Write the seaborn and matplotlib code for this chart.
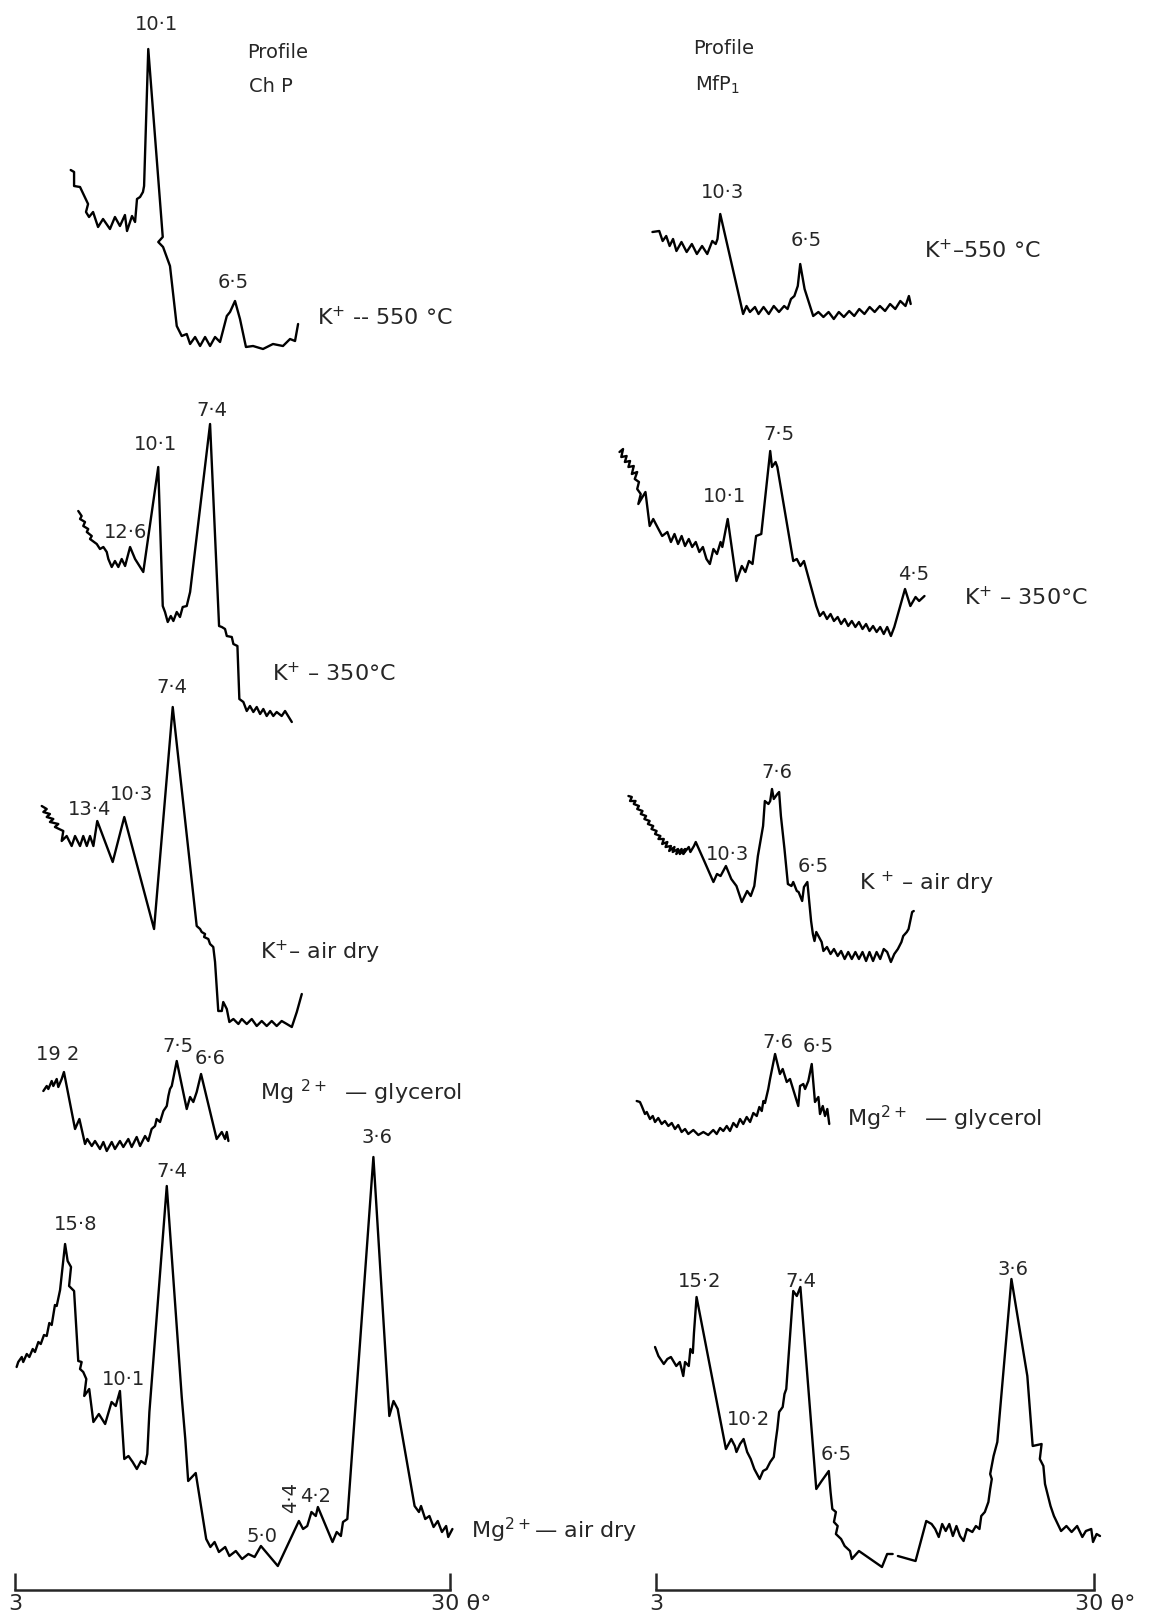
import numpy as np
import pandas as pd
import seaborn as sns
import matplotlib.pyplot as plt
from matplotlib.transforms import ScaledTranslation

# XRD traces (theta in degrees, counts above each trace's own floor)

# ---- Profile ChP ----
chp_k550_theta = [6.43, 6.64, 6.64, 7.01, 7.51, 7.38, 7.57, 7.82, 8.13, 8.44, 8.87, 9.18, 9.49, 9.80, 9.93, 10.24,
                  10.43, 10.55, 10.74, 10.92, 10.99, 11.25, 12.15, 11.87, 12.17, 12.60, 13.02, 13.33, 13.64, 13.85,
                  14.16, 14.47, 14.78, 15.09, 15.40, 15.71, 16.13, 16.33, 16.64, 16.95, 17.32, 17.76, 18.38, 19.00,
                  19.62, 20.06, 20.37, 20.56]
chp_k550_counts = [179, 177, 163, 162, 145, 137, 132, 137, 122, 130, 120, 132, 123, 134, 118, 133, 127, 150, 152, 157,
                   163, 300, 112, 107, 102, 83, 23, 13, 15, 5, 12, 3, 12, 3, 12, 7, 33, 37, 48, 30, 2, 3, 0, 5, 3, 10,
                   8, 25]

chp_k350_theta = [6.90, 7.11, 7.01, 7.32, 7.21, 7.52, 7.43, 7.74, 7.63, 8.05, 8.25, 8.46, 8.67, 8.77, 8.98, 9.18,
                  9.39, 9.60, 9.81, 10.12, 10.43, 10.94, 11.87, 12.15, 12.29, 12.46, 12.65, 12.81, 13.02, 13.22,
                  13.39, 13.64, 13.85, 15.09, 15.65, 15.82, 16.02, 16.13, 16.44, 16.54, 16.79, 16.91, 17.16, 17.37,
                  17.57, 17.78, 17.99, 18.20, 18.40, 18.61, 18.82, 19.02, 19.23, 19.54, 19.75, 20.17]
chp_k350_counts = [213, 208, 205, 202, 198, 195, 192, 188, 185, 180, 175, 177, 172, 165, 157, 163, 157, 165, 158, 177,
                   165, 152, 257, 118, 112, 102, 108, 103, 112, 107, 117, 118, 132, 300, 98, 97, 95, 88, 87, 80, 78,
                   25, 22, 13, 18, 12, 17, 10, 15, 8, 13, 8, 12, 8, 13, 2]

chp_kair_theta = [4.63, 4.94, 4.73, 5.14, 4.94, 5.35, 5.14, 5.66, 5.45, 5.97, 5.87, 6.18, 6.49, 6.70, 7.01, 7.21,
                  7.43, 7.63, 7.84, 8.08, 9.04, 9.76, 11.61, 12.77, 14.26, 14.47, 14.57, 14.78, 14.72, 14.98, 15.09,
                  15.29, 15.40, 15.60, 15.82, 15.91, 16.13, 16.29, 16.54, 16.85, 17.06, 17.37, 17.68, 17.99, 18.30,
                  18.61, 18.92, 19.23, 19.54, 19.86, 20.17, 20.48, 20.79]
chp_kair_counts = [223, 220, 217, 215, 212, 210, 207, 205, 202, 198, 188, 193, 183, 193, 183, 193, 183, 193, 183, 208,
                   167, 212, 100, 322, 103, 100, 97, 95, 92, 90, 85, 82, 67, 18, 18, 27, 20, 7, 10, 5, 10, 5, 10, 3,
                   8, 3, 8, 3, 8, 5, 2, 17, 35]

chp_mggly_theta = [4.73, 4.94, 5.04, 5.25, 5.35, 5.56, 5.66, 5.87, 6.01, 6.70, 6.97, 7.32, 7.46, 7.74, 7.94, 8.25,
                   8.46, 8.67, 8.98, 9.18, 9.49, 9.70, 10.01, 10.22, 10.53, 10.74, 11.05, 11.25, 11.46, 11.67, 11.77,
                   11.98, 12.19, 12.40, 12.50, 12.60, 12.71, 13.02, 13.64, 13.85, 14.05, 14.26, 14.53, 15.50, 15.82,
                   16.02, 16.13, 16.23]
chp_mggly_counts = [63, 68, 65, 73, 68, 75, 67, 75, 82, 25, 35, 10, 15, 8, 13, 5, 12, 3, 12, 5, 13, 7, 15, 7, 17, 8,
                    18, 13, 25, 28, 35, 32, 43, 48, 58, 65, 68, 93, 45, 57, 52, 62, 80, 15, 22, 15, 22, 13]

chp_mgair_theta = [3.07, 3.17, 3.39, 3.48, 3.70, 3.86, 4.07, 4.21, 4.42, 4.57, 4.77, 4.94, 5.10, 5.25, 5.45, 5.56,
                   5.77, 6.08, 6.24, 6.45, 6.33, 6.64, 6.90, 7.11, 7.01, 7.21, 7.40, 7.27, 7.58, 7.84, 8.18, 8.57,
                   8.97, 9.23, 9.49, 9.76, 10.02, 10.28, 10.54, 10.80, 11.06, 11.19, 11.32, 12.40, 13.33, 13.55,
                   13.73, 14.20, 14.85, 15.11, 15.37, 15.64, 16.03, 16.29, 16.69, 17.08, 17.47, 17.86, 18.25, 19.30,
                   20.61, 20.87, 21.13, 21.39, 21.66, 21.79, 22.70, 22.96, 23.22, 23.35, 23.62, 25.24, 26.23, 26.49,
                   26.75, 27.80, 28.07, 28.20, 28.46, 28.72, 28.98, 29.24, 29.50, 29.76, 29.89, 30.15]
chp_mgair_counts = [202, 207, 212, 207, 215, 212, 220, 217, 227, 225, 234, 233, 246, 244, 264, 263, 279, 325, 308, 302,
                    283, 278, 208, 207, 200, 197, 190, 173, 180, 147, 155, 145, 167, 163, 178, 110, 113, 107, 100, 108,
                    105, 115, 157, 383, 172, 130, 88, 96, 30, 22, 27, 17, 22, 13, 18, 10, 15, 12, 23, 3,
                    48, 40, 43, 57, 53, 62, 27, 37, 33, 47, 50, 412, 153, 168, 160, 63, 57, 63, 50, 53,
                    42, 48, 37, 43, 32, 40]

# ---- Profile MfP1 ----
mfp_k550_theta = [2.78, 3.20, 3.41, 3.63, 3.84, 4.05, 4.26, 4.57, 4.89, 5.21, 5.52, 5.84, 6.16, 6.47, 6.68, 6.79,
                  6.96, 8.37, 8.58, 8.79, 9.10, 9.32, 9.63, 9.95, 10.26, 10.58, 10.90, 11.11, 11.32, 11.53, 11.74,
                  11.89, 12.16, 12.69, 13.01, 13.32, 13.64, 13.96, 14.27, 14.58, 14.91, 15.22, 15.53, 15.85, 16.17,
                  16.48, 16.80, 17.12, 17.43, 17.75, 18.06, 18.38, 18.59, 18.70]
mfp_k550_counts = [87, 88, 78, 83, 73, 80, 68, 77, 67, 75, 65, 73, 65, 78, 75, 80, 105, 5, 13, 7, 12, 5, 12, 5, 13, 7,
                   13, 10, 20, 23, 33, 55, 30, 3, 7, 2, 7, 0, 7, 2, 8, 3, 10, 5, 12, 7, 13, 8, 15, 10, 18, 13, 23, 15]

mfp_k350_theta = [0.75, 0.97, 0.86, 1.19, 1.08, 1.40, 1.30, 1.63, 1.51, 1.84, 1.69, 1.95, 1.84, 2.06, 1.91, 2.35,
                  2.61, 2.83, 3.15, 3.38, 3.70, 3.92, 4.14, 4.36, 4.58, 4.79, 5.02, 5.23, 5.45, 5.67, 5.89, 6.11,
                  6.32, 6.54, 6.76, 6.98, 7.09, 7.42, 7.96, 8.29, 8.51, 8.73, 8.95, 9.17, 9.49, 10.04, 10.15, 10.37,
                  10.48, 11.46, 11.68, 11.90, 12.12, 12.88, 13.10, 13.32, 13.54, 13.76, 13.97, 14.20, 14.41, 14.63,
                  14.85, 15.07, 15.29, 15.51, 15.73, 15.95, 16.16, 16.38, 16.60, 16.82, 17.04, 17.25, 17.48, 17.69,
                  18.35, 18.68, 19.00, 19.22, 19.55]
mfp_k350_counts = [187, 190, 182, 183, 177, 178, 172, 173, 165, 167, 160, 157, 150, 145, 135, 147, 113, 120, 110, 103,
                   107, 97, 105, 95, 103, 93, 100, 92, 97, 87, 92, 80, 75, 90, 85, 97, 92, 120, 58, 73, 67, 78, 75,
                   103, 105, 188, 172, 177, 172, 78, 80, 73, 78, 33, 23, 27, 20, 25, 18, 22, 15, 20, 13, 18, 12, 17,
                   10, 15, 8, 13, 7, 12, 5, 12, 3, 12, 50, 33, 42, 38, 43]

mfp_kair_theta = [1.30, 1.51, 1.40, 1.74, 1.63, 1.95, 1.84, 2.17, 2.06, 2.39, 2.28, 2.61, 2.50, 2.83, 2.72, 3.04,
                  2.94, 3.27, 3.15, 3.48, 3.38, 3.70, 3.59, 3.92, 3.81, 4.14, 4.03, 4.36, 4.25, 4.58, 4.47, 4.79,
                  4.68, 5.02, 5.12, 5.34, 5.45, 6.00, 6.54, 6.76, 6.98, 7.31, 7.64, 7.96, 8.29, 8.62, 8.84, 9.06,
                  9.28, 9.60, 9.71, 9.93, 10.04, 10.15, 10.26, 10.48, 10.59, 10.70, 10.92, 11.13, 11.35, 11.46,
                  11.68, 11.79, 12.01, 12.12, 12.33, 12.56, 12.67, 12.77, 12.88, 13.21, 13.32, 13.54, 13.76, 13.97,
                  14.20, 14.41, 14.63, 14.85, 15.07, 15.29, 15.51, 15.73, 15.95, 16.16, 16.38, 16.60, 16.82, 17.04,
                  17.25, 17.48, 17.69, 17.91, 18.13, 18.24, 18.46, 18.57, 18.79, 18.89]
mfp_kair_counts = [168, 167, 163, 163, 160, 158, 155, 153, 150, 148, 145, 143, 140, 138, 135, 133, 130, 128, 125, 125,
                   120, 122, 117, 118, 113, 117, 112, 115, 110, 115, 110, 115, 110, 117, 112, 118, 122, 102, 82, 90,
                   88, 98, 85, 78, 62, 73, 68, 78, 108, 138, 163, 160, 163, 175, 165, 170, 172, 148, 115, 80,
                   78, 82, 73, 72, 63, 77, 82, 43, 30, 23, 32, 22, 13, 17, 10, 15, 8, 13, 5, 12,
                   5, 12, 5, 12, 3, 12, 3, 12, 5, 15, 12, 2, 10, 15, 22, 28, 32, 35, 52, 53]

mfp_mggly_theta = [1.81, 2.01, 2.12, 2.32, 2.43, 2.63, 2.80, 2.94, 3.14, 3.35, 3.55, 3.76, 3.97, 4.17, 4.37, 4.58,
                   4.79, 4.99, 5.30, 5.61, 5.92, 6.22, 6.53, 6.74, 6.95, 7.15, 7.36, 7.56, 7.77, 7.98, 8.18, 8.38,
                   8.59, 8.80, 9.00, 9.21, 9.37, 9.52, 9.62, 9.72, 9.82, 9.92, 10.03, 10.34, 10.64, 10.81, 11.06,
                   11.26, 11.77, 11.88, 12.08, 12.19, 12.39, 12.60, 12.80, 13.01, 13.11, 13.28, 13.42, 13.56, 13.68]
mfp_mggly_counts = [48, 47, 43, 35, 37, 30, 33, 27, 31, 25, 28, 23, 26, 20, 24, 17, 20, 15, 19, 14, 17, 14, 19, 15,
                    21, 18, 23, 18, 26, 22, 30, 25, 32, 27, 36, 33, 42, 38, 48, 46, 53, 60, 70, 95, 75, 80, 67, 70,
                    43, 63, 65, 60, 68, 85, 47, 52, 35, 43, 33, 40, 25]

nan = float("nan")  # break in the pen trace
mfp_mgair_theta = [2.94, 3.15, 3.48, 3.70, 3.92, 4.25, 4.47, 4.68, 4.79, 5.02, 5.12, 5.27, 5.34, 5.50, 7.31, 7.64,
                   7.86, 7.96, 8.18, 8.40, 8.62, 8.84, 9.06, 9.39, 9.60, 9.82, 10.04, 10.26, 10.37, 10.48, 10.59,
                   10.81, 10.92, 11.03, 11.46, 11.68, 11.90, 12.88, 13.21, 13.65, 13.76, 13.87, 14.09, 13.97, 14.20,
                   14.09, 14.41, 14.63, 14.96, 15.07, 15.51, 16.93, 17.25, 17.59, nan, 17.91, 19.00, 19.66, 19.99,
                   20.21, 20.43, 20.64, 20.86, 21.08, 21.30, 21.52, 21.74, 21.96, 22.17, 22.50, 22.72, 22.94, 23.05,
                   23.27, 23.49, 23.60, 23.70, 23.60, 23.81, 24.04, 24.91, 25.89, 26.22, 26.77, 26.66, 26.88, 26.98,
                   27.32, 27.53, 27.97, 28.30, 28.62, 28.96, 29.28, 29.50, 29.83, 29.94, 30.16, 30.37]
mfp_mgair_counts = [222, 213, 205, 210, 212, 203, 207, 193, 207, 203, 220, 216, 236, 272, 120, 130, 123, 117, 125, 130,
                    117, 110, 100, 90, 98, 100, 107, 112, 127, 140, 157, 162, 175, 180, 278, 273, 282, 80, 88, 98,
                    77, 60, 57, 47, 43, 35, 30, 23, 18, 10, 18, 2, 15, 15, nan, 13, 8, 48, 45, 40,
                    32, 45, 38, 45, 33, 43, 33, 28, 40, 37, 43, 40, 53, 57, 67, 80, 90, 95, 113, 127,
                    290, 193, 123, 125, 110, 103, 85, 63, 53, 38, 43, 37, 43, 32, 38, 40, 27, 35, 33]

# stacking offsets (same units as counts)
chp_offsets = {"k550": 1265, "k350": 890, "kair": 585, "mggly": 460, "mgair": 45}
mfp_offsets = {"k550": 1295, "k350": 975, "kair": 650, "mggly": 465, "mgair": 45}

# annotations: (text, theta, height)
chp_labels = [("10·1", 11.79, 1590), ("6·5", 16.52, 1332),
              ("7·4", 15.19, 1205), ("10·1", 11.73, 1170), ("12·6", 9.87, 1083),
              ("7·4", 12.73, 927), ("13·4", 7.63, 805), ("10·3", 10.22, 820),
              ("19 2", 5.6, 560), ("7·5", 13.1, 569), ("6·6", 15.09, 557),
              ("15·8", 6.75, 390), ("10·1", 9.70, 235), ("7·4", 12.71, 443), ("3·6", 25.45, 477),
              ("5·0", 18.31, 78), ("4·2", 21.66, 118)]
chp_treat = [("K$^{+}$ -- 550 °C", 21.74, 1298), ("K$^{+}$ – 350°C", 18.94, 942),
             ("K$^{+}$– air dry", 18.2, 663), ("Mg $^{2+}$  — glycerol", 18.2, 523),
             ("Mg$^{2+}$— air dry", 31.32, 85)]
mfp_labels = [("10·3", 7.11, 1423), ("6·5", 12.27, 1375),
              ("7·5", 10.58, 1180), ("10·1", 7.20, 1118), ("4·5", 18.89, 1040),
              ("7·6", 10.48, 842), ("10·3", 7.42, 760), ("6·5", 12.67, 748),
              ("7·6", 10.54, 572), ("6·5", 13.01, 568),
              ("15·2", 5.67, 333), ("7·4", 11.90, 333), ("10·2", 8.73, 195), ("6·5", 14.09, 160),
              ("3·6", 25.02, 345)]
mfp_treat = [("K$^{+}$–550 °C", 19.54, 1365), ("K$^{+}$ – 350°C", 21.96, 1018),
             ("K $^{+}$ – air dry", 15.51, 732), ("Mg$^{2+}$  — glycerol", 14.76, 497)]

sns.set_style("white")
plt.rcParams["font.family"] = ["DejaVu Sans"]

fig = plt.figure(figsize=(11.56, 16.15), dpi=100)
ax_l = fig.add_axes([15.5 / 1156, 0, 434.5 / 1156, 1])
ax_r = fig.add_axes([656 / 1156, 0, 438 / 1156, 1])


def draw_trace(ax, theta, counts, offset):
    df = pd.DataFrame({"theta": theta, "y": np.array(counts, dtype=float) + offset})
    df["seg"] = df["y"].isna().cumsum()
    df = df.dropna()
    sns.lineplot(data=df, x="theta", y="y", units="seg", estimator=None, sort=False,
                 color="black", lw=1.7, legend=False, ax=ax)


draw_trace(ax_l, chp_k550_theta, chp_k550_counts, chp_offsets["k550"])
draw_trace(ax_l, chp_k350_theta, chp_k350_counts, chp_offsets["k350"])
draw_trace(ax_l, chp_kair_theta, chp_kair_counts, chp_offsets["kair"])
draw_trace(ax_l, chp_mggly_theta, chp_mggly_counts, chp_offsets["mggly"])
draw_trace(ax_l, chp_mgair_theta, chp_mgair_counts, chp_offsets["mgair"])

draw_trace(ax_r, mfp_k550_theta, mfp_k550_counts, mfp_offsets["k550"])
draw_trace(ax_r, mfp_k350_theta, mfp_k350_counts, mfp_offsets["k350"])
draw_trace(ax_r, mfp_kair_theta, mfp_kair_counts, mfp_offsets["kair"])
draw_trace(ax_r, mfp_mggly_theta, mfp_mggly_counts, mfp_offsets["mggly"])
draw_trace(ax_r, mfp_mgair_theta, mfp_mgair_counts, mfp_offsets["mgair"])

for ax in (ax_l, ax_r):
    for ln in ax.lines:
        ln.set_clip_on(False)
    ax.set_xlim(3, 30)
    ax.set_ylim(0, 1615)
    ax.patch.set_alpha(0)
    sns.despine(ax=ax, left=True)
    ax.spines["bottom"].set_position(("data", 24))
    ax.spines["bottom"].set_linewidth(1.8)
    ax.set_yticks([])
    ax.set_xlabel("")
    ax.set_ylabel("")
    ax.set_xticks([3, 30])
    ax.set_xticklabels(["3", "30 θ°"])
    ax.tick_params(axis="x", bottom=True, direction="in", length=12, width=1.8, labelsize=16, pad=2)
    lab = ax.get_xticklabels()[1]
    lab.set_ha("left")
    lab.set_transform(lab.get_transform() + ScaledTranslation(-14 / 72, 0, fig.dpi_scale_trans))

for txt, th, h in chp_labels:
    ax_l.text(th, h, txt, ha="center", va="center", fontsize=14)
for txt, th, h in mfp_labels:
    ax_r.text(th, h, txt, ha="center", va="center", fontsize=14)
for txt, th, h in chp_treat:
    ax_l.text(th, h, txt, ha="left", va="center", fontsize=16)
for txt, th, h in mfp_treat:
    ax_r.text(th, h, txt, ha="left", va="center", fontsize=16)

ax_l.text(20.09, 117, "4·4", ha="center", va="center", fontsize=14, rotation=90)
ax_l.text(17.4, 1563, "Profile", ha="left", va="center", fontsize=14)
ax_l.text(17.5, 1528, "Ch P", ha="left", va="center", fontsize=14)
ax_r.text(5.3, 1567, "Profile", ha="left", va="center", fontsize=14)
ax_r.text(5.4, 1530, "MfP$_1$", ha="left", va="center", fontsize=14)

fig.savefig("out.png", dpi=100)
